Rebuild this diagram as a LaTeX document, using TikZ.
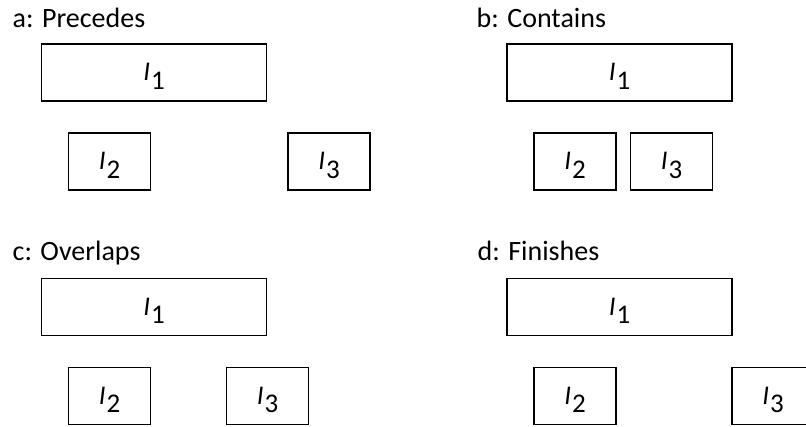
\documentclass[tikz,border=0pt]{standalone}
\usepackage{fontspec}
\setmainfont{Carlito}
\begin{document}
\begin{tikzpicture}[x=1pt,y=-1pt,
  interval/.style={draw=black,line width=1.6pt,rectangle,inner sep=0pt},
  long/.style={interval,minimum width=225pt,minimum height=57pt},
  short/.style={interval,minimum width=82pt,minimum height=57pt},
  caption/.style={anchor=base west,inner sep=0pt,font=\fontsize{28}{31}\selectfont},
  lbl/.style={inner sep=0pt,yshift=-4pt,font=\fontsize{27}{30}\selectfont}]
\newcommand{\ivl}[1]{\textit{I}\kern1pt\raisebox{-0.32em}{#1}}
\useasboundingbox (0,0) rectangle (806,427);
\clip (0,0) rectangle (806,427);

% a: Precedes
\node[caption] (ta) at (12.5,27.5) {a: Precedes};
\node[long]  (a1) at (154,72.5)  {}; \node[lbl] (la1) at (a1) {\ivl{1}};
\node[short] (a2) at (109.5,161.5) {}; \node[lbl] (la2) at (a2) {\ivl{2}};
\node[short] (a3) at (329,161.5) {}; \node[lbl] (la3) at (a3) {\ivl{3}};

% b: Contains
\node[caption] (tb) at (476.5,27.5) {b: Contains};
\node[long]  (b1) at (619.5,72.5) {}; \node[lbl] (lb1) at (b1) {\ivl{1}};
\node[short] (b2) at (575,161.5) {}; \node[lbl] (lb2) at (b2) {\ivl{2}};
\node[short] (b3) at (671.5,161.5) {}; \node[lbl] (lb3) at (b3) {\ivl{3}};

% c: Overlaps
\node[caption] (tc) at (12.5,261) {c: Overlaps};
\node[long]  (c1) at (154,307) {}; \node[lbl] (lc1) at (c1) {\ivl{1}};
\node[short] (c2) at (109.5,396) {}; \node[lbl] (lc2) at (c2) {\ivl{2}};
\node[short] (c3) at (267.5,396) {}; \node[lbl] (lc3) at (c3) {\ivl{3}};

% d: Finishes
\node[caption] (td) at (477.5,261) {d: Finishes};
\node[long]  (d1) at (619.5,307) {}; \node[lbl] (ld1) at (d1) {\ivl{1}};
\node[short] (d2) at (575,396) {}; \node[lbl] (ld2) at (d2) {\ivl{2}};
\node[short] (d3) at (773,396) {}; \node[lbl] (ld3) at (d3) {\ivl{3}};
\end{tikzpicture}
\end{document}
